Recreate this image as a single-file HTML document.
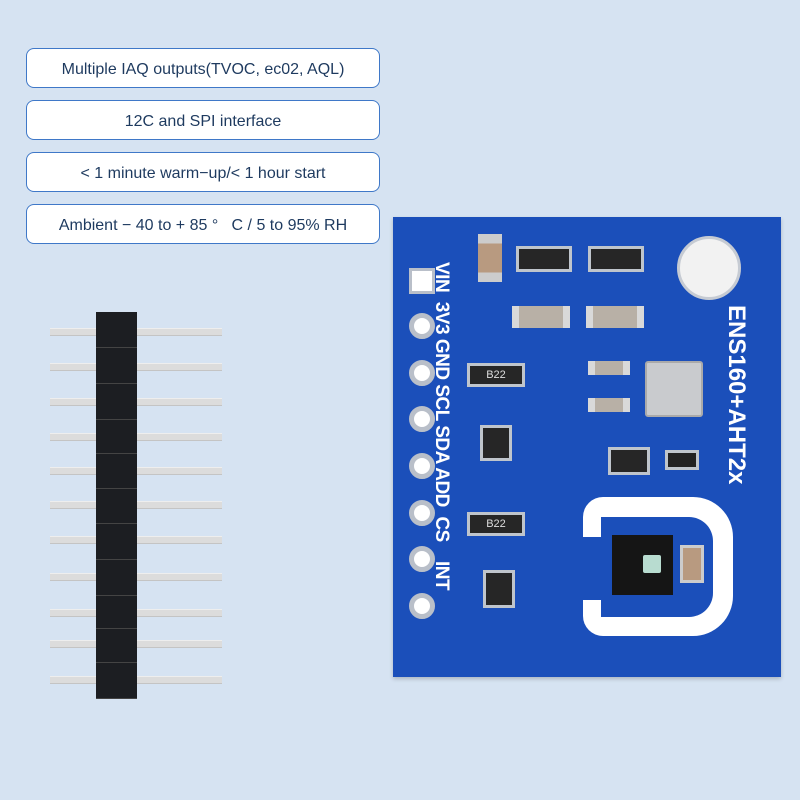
<!DOCTYPE html>
<html><head><style>
body{margin:0;width:800px;height:800px;background:#d6e3f2;position:relative;overflow:hidden;font-family:"Liberation Sans",sans-serif}
.b{position:absolute;left:26px;width:352px;height:38px;border:1.5px solid #3f78c8;border-radius:8px;background:#fff;color:#1e3a5f;font-size:16px;line-height:41px;text-align:center}
.pin{position:absolute;left:50px;width:172px;height:6px;background:#dcdcdc;border-top:1px solid #eee;border-bottom:1px solid #c4c4c4}
.seg{position:absolute;left:96px;width:41px;background:#1c1e22;border-bottom:1px solid #444}
.pad{position:absolute;left:409px;width:16px;height:16px;border-radius:50%;background:#fff;border:5px solid #b9bfc9}
.ic{position:absolute;background:#262626;border:3px solid #bfc5cc;color:#ddd;font-size:11px;text-align:center}
.cap{position:absolute;background:#b8b0a6;border-left:7px solid #d9d9d9;border-right:7px solid #d9d9d9}
</style></head><body>
<div class="b" style="top:48px">Multiple IAQ outputs(TVOC, ec02, AQL)</div>
<div class="b" style="top:100px">12C and SPI interface</div>
<div class="b" style="top:152px">&lt; 1 minute warm−up/&lt; 1 hour start</div>
<div class="b" style="top:204px">Ambient − 40 to + 85 °&nbsp;&nbsp;&nbsp;C / 5 to 95% RH</div>

<div class="pin" style="top:328px"></div><div class="pin" style="top:363px"></div><div class="pin" style="top:398px"></div><div class="pin" style="top:433px"></div><div class="pin" style="top:467px"></div><div class="pin" style="top:501px"></div><div class="pin" style="top:536px"></div><div class="pin" style="top:573px"></div><div class="pin" style="top:609px"></div><div class="pin" style="top:640px"></div><div class="pin" style="top:676px"></div>
<div class="seg" style="top:312px;height:35px"></div><div class="seg" style="top:348px;height:35px"></div><div class="seg" style="top:384px;height:35px"></div><div class="seg" style="top:420px;height:33px"></div><div class="seg" style="top:454px;height:34px"></div><div class="seg" style="top:489px;height:34px"></div><div class="seg" style="top:524px;height:35px"></div><div class="seg" style="top:560px;height:35px"></div><div class="seg" style="top:596px;height:32px"></div><div class="seg" style="top:629px;height:33px"></div><div class="seg" style="top:663px;height:35px"></div>

<div style="position:absolute;left:393px;top:217px;width:388px;height:460px;background:#1b4fba;box-shadow:0 2px 4px rgba(0,0,0,.2)"></div>
<div style="position:absolute;left:409px;top:268px;background:#fff;border:3px solid #b9bfc9;box-sizing:border-box;width:26px;height:26px"></div>
<div class="pad" style="top:313px"></div><div class="pad" style="top:360px"></div><div class="pad" style="top:406px"></div><div class="pad" style="top:453px"></div><div class="pad" style="top:500px"></div><div class="pad" style="top:546px"></div><div class="pad" style="top:593px"></div>
<div style="position:absolute;left:452px;top:262px;transform-origin:0 0;transform:rotate(90deg);color:#fff;font-weight:bold;font-size:19px;white-space:nowrap;letter-spacing:-0.5px">VIN&nbsp;&nbsp;3V3 GND SCL SDA ADD&nbsp;&nbsp;CS&nbsp;&nbsp;&nbsp;&nbsp;INT</div>
<div style="position:absolute;left:750px;top:305px;transform-origin:0 0;transform:rotate(90deg);color:#fff;font-weight:bold;font-size:24px;white-space:nowrap">ENS160+AHT2x</div>
<div style="position:absolute;left:677px;top:236px;width:64px;height:64px;border-radius:50%;background:#f2f2f2;border:3px solid #c6cbd3;box-sizing:border-box"></div>
<div style="position:absolute;left:478px;top:234px;width:24px;height:48px;background:linear-gradient(#ccc 20%,#b89a80 20%,#b89a80 80%,#ccc 80%)"></div>
<div class="ic" style="left:516px;top:246px;width:50px;height:20px"></div>
<div class="ic" style="left:588px;top:246px;width:50px;height:20px"></div>
<div class="cap" style="left:512px;top:306px;width:44px;height:22px"></div>
<div class="cap" style="left:586px;top:306px;width:44px;height:22px"></div>
<div class="ic" style="left:467px;top:363px;width:52px;height:18px;line-height:18px">B22</div>
<div class="ic" style="left:467px;top:512px;width:52px;height:18px;line-height:18px">B22</div>
<div class="ic" style="left:480px;top:425px;width:26px;height:30px"></div>
<div class="ic" style="left:483px;top:570px;width:26px;height:32px"></div>
<div class="cap" style="left:588px;top:361px;width:28px;height:14px"></div>
<div class="cap" style="left:588px;top:398px;width:28px;height:14px"></div>
<div style="position:absolute;left:645px;top:361px;width:54px;height:52px;background:#c9cbce;border-radius:3px;border:2px solid #aaa"></div>
<div class="ic" style="left:608px;top:447px;width:36px;height:22px"></div>
<div class="ic" style="left:665px;top:450px;width:28px;height:14px;background:#222"></div>
<!-- open-left U shape -->
<div style="position:absolute;left:583px;top:497px;width:150px;height:139px;border-radius:20px 40px 40px 20px;background:#fff"></div>
<div style="position:absolute;left:601px;top:517px;width:112px;height:100px;border-radius:0 24px 24px 0;background:#1b4fba"></div>
<div style="position:absolute;left:581px;top:537px;width:30px;height:63px;background:#1b4fba"></div>
<div style="position:absolute;left:612px;top:535px;width:61px;height:60px;background:#151515"></div>
<div style="position:absolute;left:643px;top:555px;width:18px;height:18px;background:#b8dcd0;border-radius:2px"></div>
<div class="cap" style="left:680px;top:545px;width:18px;height:32px;border:3px solid #ccc;background:#b89a80"></div>
</body></html>
